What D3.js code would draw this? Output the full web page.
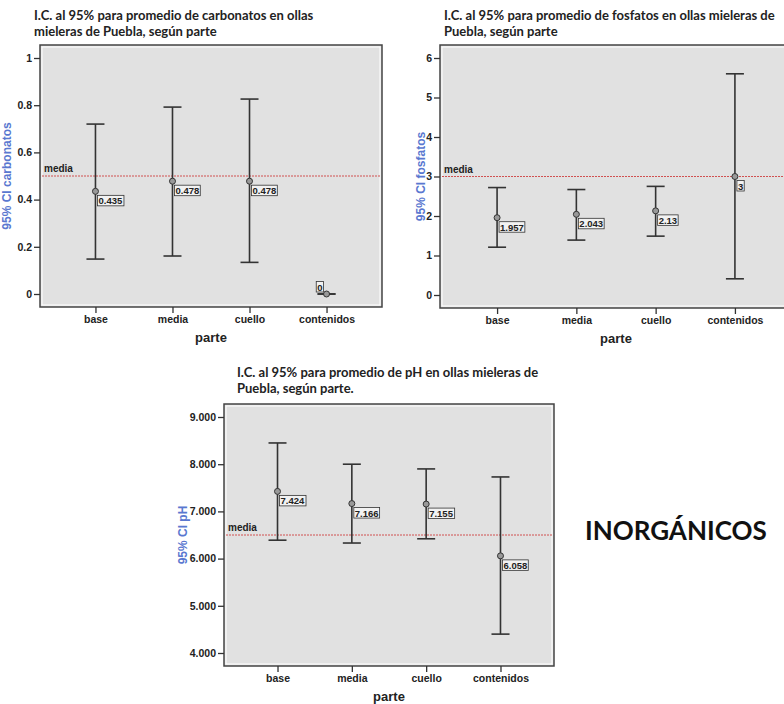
<!DOCTYPE html>
<html>

<head>
  <meta charset="utf8">
  <script src="https://d3js.org/d3.v7.min.js"></script>
  <style>
    body {
      margin: 0;
      background: #fff;
    }

    .title {
      font-family: Lato, "Open Sans", sans-serif;
      font-weight: bold;
      font-size: 13px;
      fill: #222;
    }

    .axis path {
      display: none;
    }

    .axis line {
      stroke: #333;
      stroke-width: 1.3;
    }

    .axis text {
      font-family: "Liberation Sans", Arial, sans-serif;
      font-weight: bold;
      font-size: 10.5px;
      fill: #222;
    }

    .ylabel {
      font-family: "Liberation Sans", Arial, sans-serif;
      font-weight: bold;
      font-size: 12px;
      fill: #5a78d0;
    }

    .xlabel {
      font-family: "Liberation Sans", Arial, sans-serif;
      font-weight: bold;
      font-size: 13px;
      fill: #222;
    }

    .ref-text {
      font-family: "Liberation Sans", Arial, sans-serif;
      font-weight: bold;
      font-size: 10px;
      fill: #222;
    }

    .val text {
      font-family: "Liberation Sans", Arial, sans-serif;
      font-weight: bold;
      font-size: 9.5px;
      fill: #222;
    }
  </style>
</head>

<body>
  <svg id="chart" width="784" height="704"></svg>

  <script>
    var partes = ["base", "media", "cuello", "contenidos"];

    // carbonatos
    var carbMedia = [0.435, 0.478, 0.478, 0];
    var carbInf = [0.148, 0.161, 0.134, 0];
    var carbSup = [0.720, 0.792, 0.826, 0];
    var carbTicks = [0, 0.2, 0.4, 0.6, 0.8, 1];
    var carbTickLabels = ["0", "0.2", "0.4", "0.6", "0.8", "1"];
    var carbRef = 0.5;

    // fosfatos
    var fosfMedia = [1.957, 2.043, 2.13, 3];
    var fosfInf = [1.21, 1.39, 1.49, 0.41];
    var fosfSup = [2.72, 2.67, 2.75, 5.60];
    var fosfTicks = [0, 1, 2, 3, 4, 5, 6];
    var fosfTickLabels = ["0", "1", "2", "3", "4", "5", "6"];
    var fosfRef = 3;

    // pH
    var phMedia = [7.424, 7.166, 7.155, 6.058];
    var phInf = [6.39, 6.33, 6.42, 4.40];
    var phSup = [8.45, 8.00, 7.90, 7.73];
    var phTicks = [4, 5, 6, 7, 8, 9];
    var phTickLabels = ["4.000", "5.000", "6.000", "7.000", "8.000", "9.000"];
    var phRef = 6.5;

    var chart = d3.select('#chart');

    function drawPanel(p) {
      var g = chart.append('g');

      var x = d3.scalePoint()
        .domain(partes)
        .range([p.left, p.right])
        .padding(0.72);

      var y = d3.scaleLinear()
        .domain(p.domain)
        .range([p.bottom - 13, p.top + 13]);

      // frame
      g.append('rect')
        .attr('x', p.left).attr('y', p.top)
        .attr('width', p.right - p.left).attr('height', p.bottom - p.top)
        .attr('fill', '#e1e1e1')
        .attr('stroke', '#444')
        .attr('stroke-width', 1.5);
      g.append('rect')
        .attr('x', p.left + 2).attr('y', p.top + 2)
        .attr('width', p.right - p.left - 4).attr('height', p.bottom - p.top - 4)
        .attr('fill', 'none')
        .attr('stroke', '#fff')
        .attr('stroke-width', 1);

      // reference line
      g.append('line')
        .attr('x1', p.left + 2).attr('x2', p.right - 2)
        .attr('y1', y(p.ref)).attr('y2', y(p.ref))
        .attr('stroke', '#d05050')
        .attr('stroke-width', 1)
        .attr('stroke-dasharray', '2,1');
      g.append('text')
        .attr('class', 'ref-text')
        .attr('x', p.left + 4)
        .attr('y', y(p.ref) - 4)
        .text('media');

      // axes
      g.append('g')
        .attr('class', 'axis')
        .attr('transform', 'translate(' + p.left + ',0)')
        .call(d3.axisLeft(y).tickValues(p.ticks)
          .tickFormat((d, i) => p.tickLabels[i]).tickSize(6).tickPadding(2));

      g.append('g')
        .attr('class', 'axis')
        .attr('transform', 'translate(0,' + p.bottom + ')')
        .call(d3.axisBottom(x).tickSize(6).tickPadding(3));

      g.append('text')
        .attr('class', 'xlabel')
        .attr('x', (p.left + p.right) / 2)
        .attr('y', p.bottom + 35)
        .attr('text-anchor', 'middle')
        .text('parte');

      g.append('text')
        .attr('class', 'ylabel')
        .attr('transform', 'translate(' + p.ylabX + ',' + ((p.top + p.bottom) / 2) + ') rotate(-90)')
        .attr('text-anchor', 'middle')
        .text(p.ylab);

      // error bars
      var rows = partes.map((d, i) => ({ parte: d, m: p.media[i], lo: p.inf[i], hi: p.sup[i] }));
      var bars = g.selectAll('.bar').data(rows).enter().append('g').attr('class', 'bar');
      bars.append('line')
        .attr('x1', (d) => x(d.parte)).attr('x2', (d) => x(d.parte))
        .attr('y1', (d) => y(d.lo)).attr('y2', (d) => y(d.hi));
      bars.append('line')
        .attr('x1', (d) => x(d.parte) - 9).attr('x2', (d) => x(d.parte) + 9)
        .attr('y1', (d) => y(d.hi)).attr('y2', (d) => y(d.hi));
      bars.append('line')
        .attr('x1', (d) => x(d.parte) - 9).attr('x2', (d) => x(d.parte) + 9)
        .attr('y1', (d) => y(d.lo)).attr('y2', (d) => y(d.lo));
      bars.selectAll('line')
        .attr('stroke', '#333')
        .attr('stroke-width', 1.6);
      bars.append('circle')
        .attr('cx', (d) => x(d.parte)).attr('cy', (d) => y(d.m))
        .attr('r', 3)
        .attr('fill', '#999')
        .attr('stroke', '#333')
        .attr('stroke-width', 1);

      // value labels
      rows.forEach(function (d) {
        var px = x(d.parte), py = y(d.m);
        var lg = g.append('g').attr('class', 'val');
        var t = lg.append('text').text(String(d.m));
        var bb = t.node().getBBox();
        var w = bb.width + 2, h = 10.5;
        var bx = px + 2, by = py + 4;
        if (by + h > p.bottom - 4) {
          bx = px - 3 - w;
          by = py - 2 - h;
        }
        lg.insert('rect', 'text')
          .attr('x', bx).attr('y', by)
          .attr('width', w).attr('height', h)
          .attr('fill', '#f2f2f2')
          .attr('stroke', '#333')
          .attr('stroke-width', 0.8);
        t.attr('x', bx + 1).attr('y', by + 9);
      });

      // title
      g.selectAll('.title').data(p.title).enter().append('text')
        .attr('class', 'title')
        .attr('x', p.titleX)
        .attr('y', (d, i) => p.titleY + i * 15.5)
        .text((d) => d);
    }

    drawPanel({
      left: 40, right: 382, top: 45, bottom: 307,
      domain: [0, 1], ticks: carbTicks, tickLabels: carbTickLabels, ref: carbRef,
      media: carbMedia, inf: carbInf, sup: carbSup,
      ylab: '95% CI carbonatos', ylabX: 11,
      title: ['I.C. al 95% para promedio de carbonatos en ollas', 'mieleras de Puebla, según parte'],
      titleX: 34, titleY: 20
    });

    drawPanel({
      left: 440, right: 792, top: 45, bottom: 308,
      domain: [0, 6], ticks: fosfTicks, tickLabels: fosfTickLabels, ref: fosfRef,
      media: fosfMedia, inf: fosfInf, sup: fosfSup,
      ylab: '95% CI fosfatos', ylabX: 425,
      title: ['I.C. al 95% para promedio de fosfatos en ollas mieleras de', 'Puebla, según parte'],
      titleX: 444, titleY: 20
    });

    drawPanel({
      left: 224, right: 554, top: 404, bottom: 666,
      domain: [4, 9], ticks: phTicks, tickLabels: phTickLabels, ref: phRef,
      media: phMedia, inf: phInf, sup: phSup,
      ylab: '95% CI pH', ylabX: 187,
      title: ['I.C. al 95% para promedio de pH en ollas mieleras de', 'Puebla, según parte.'],
      titleX: 237, titleY: 377
    });

    chart.append('text')
      .attr('x', 585)
      .attr('y', 540)
      .attr('font-family', 'Lato, "Open Sans", sans-serif')
      .attr('font-weight', 'bold')
      .attr('font-size', 26)
      .attr('fill', '#111')
      .text('INORGÁNICOS');
  </script>
</body>

</html>
